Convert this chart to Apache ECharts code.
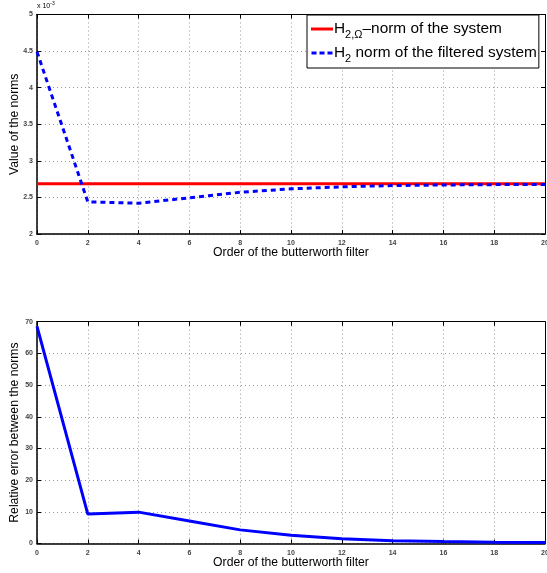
<!DOCTYPE html>
<html>
<head>
<meta charset="utf-8">
<script src="https://cdn.jsdelivr.net/npm/echarts@6/dist/echarts.min.js"></script>
<style>
  html, body { margin: 0; padding: 0; background: #fff; }
  #main { width: 547px; height: 573px; }
</style>
</head>
<body>
<div id="main"></div>
<script>
// filter order (x axis)
const orders = [0, 2, 4, 6, 8, 10, 12, 14, 16, 18, 20];
// H2,Omega norm of the system (x 1e-3), constant
const normSystem = 2.686;
// H2 norm of the filtered system (x 1e-3)
const normFiltered = [4.49, 2.44, 2.42, 2.495, 2.57, 2.617, 2.645, 2.662, 2.670, 2.675, 2.678];
// relative error between the norms (%)
const relError = [68.5, 9.3, 9.9, 7.1, 4.3, 2.6, 1.5, 0.9, 0.6, 0.4, 0.3];

const FONT = 'Liberation Sans, Arial, sans-serif';
const chart = echarts.init(document.getElementById('main'), null, { renderer: 'canvas' });

const tickLbl = { fontSize: 7, color: '#444', fontFamily: FONT, fontWeight: 'bold' };
const gridLine = { show: true, lineStyle: { type: [1, 3], color: '#999', width: 1 } };

function xAx(gridIndex, main) {
  return {
    type: 'value', gridIndex: gridIndex, min: 0, max: 20, interval: 2,
    position: main ? 'bottom' : 'top',
    axisLine: { show: true, onZero: false, lineStyle: { color: '#000', width: main ? 1.5 : 1 } },
    axisTick: { show: true, inside: true, length: 4, lineStyle: { color: '#000' } },
    axisLabel: main ? Object.assign({ margin: 6 }, tickLbl) : { show: false },
    splitLine: main ? gridLine : { show: false },
    name: main ? 'Order of the butterworth filter' : '',
    nameLocation: 'middle', nameGap: 13, nameMoveOverlap: false,
    nameTextStyle: { fontSize: 12.2, color: '#000', fontFamily: FONT }
  };
}
function yAx(gridIndex, main, min, max, interval, name) {
  return {
    type: 'value', gridIndex: gridIndex, min: min, max: max, interval: interval,
    position: main ? 'left' : 'right',
    axisLine: { show: true, onZero: false, lineStyle: { color: '#000', width: main ? 1.5 : 1 } },
    axisTick: { show: true, inside: true, length: 4, lineStyle: { color: '#000' } },
    axisLabel: main ? Object.assign({ margin: 4 }, tickLbl) : { show: false },
    splitLine: main ? gridLine : { show: false },
    name: main ? name : '',
    nameLocation: 'middle', nameGap: 16, nameMoveOverlap: false,
    nameTextStyle: { fontSize: 12.2, color: '#000', fontFamily: FONT }
  };
}

chart.setOption({
  backgroundColor: '#fff',
  animation: false,
  grid: [
    { left: 37, top: 14.5, width: 508, height: 219.5, containLabel: false, outerBoundsMode: 'none' },
    { left: 37, top: 321.7, width: 508, height: 221.8, containLabel: false, outerBoundsMode: 'none' }
  ],
  xAxis: [xAx(0, true), xAx(0, false), xAx(1, true), xAx(1, false)],
  yAxis: [
    yAx(0, true, 2, 5, 0.5, 'Value of the norms'),
    yAx(0, false, 2, 5, 0.5),
    yAx(1, true, 0, 70, 10, 'Relative error between the norms'),
    yAx(1, false, 0, 70, 10)
  ],
  legend: {
    orient: 'vertical',
    left: 307, top: 15,
    backgroundColor: '#fff',
    borderColor: '#000', borderWidth: 1,
    padding: [3, 2, 4, 4],
    itemGap: 2,
    itemWidth: 22, itemHeight: 3,
    data: [
      { name: 'sys', icon: 'rect' },
      { name: 'filt', icon: 'path://M0,0h5v3h-5z M8,0h5v3h-5z M16,0h5v3h-5z' }
    ],
    formatter: function (n) {
      return n === 'sys'
        ? '{m|H}{s|2,Ω}{m|–norm of the system}'
        : '{m|H}{s|2}{m| norm of the filtered system}';
    },
    textStyle: {
      color: '#000', fontFamily: FONT, fontSize: 15.4, padding: [0, 0, 0, -4],
      rich: {
        m: { fontSize: 15.4, fontFamily: FONT, color: '#000', lineHeight: 21 },
        s: { fontSize: 11, fontFamily: FONT, color: '#000', padding: [11, 0, 0, 0], lineHeight: 21 }
      }
    }
  },
  graphic: [{
    type: 'text', left: 37, top: 1,
    style: { text: '{a|x 10}{b|-3}', rich: {
      a: { fontSize: 7, fontFamily: FONT, fill: '#000' },
      b: { fontSize: 5, fontFamily: FONT, fill: '#000', padding: [0, 0, 5, 0] }
    } }
  }],
  series: [
    {
      name: 'sys', type: 'line', xAxisIndex: 0, yAxisIndex: 0, symbol: 'none',
      data: orders.map(o => [o, normSystem]),
      lineStyle: { color: '#ff0000', width: 3 }, itemStyle: { color: '#ff0000' }
    },
    {
      name: 'filt', type: 'line', xAxisIndex: 0, yAxisIndex: 0, symbol: 'none',
      data: orders.map((o, i) => [o, normFiltered[i]]),
      lineStyle: { color: '#0000ff', width: 3, type: [5, 4] }, itemStyle: { color: '#0000ff' }
    },
    {
      name: 'err', type: 'line', xAxisIndex: 2, yAxisIndex: 2, symbol: 'none',
      data: orders.map((o, i) => [o, relError[i]]),
      lineStyle: { color: '#0000ff', width: 3 }, itemStyle: { color: '#0000ff' }
    }
  ]
});
</script>
</body>
</html>
